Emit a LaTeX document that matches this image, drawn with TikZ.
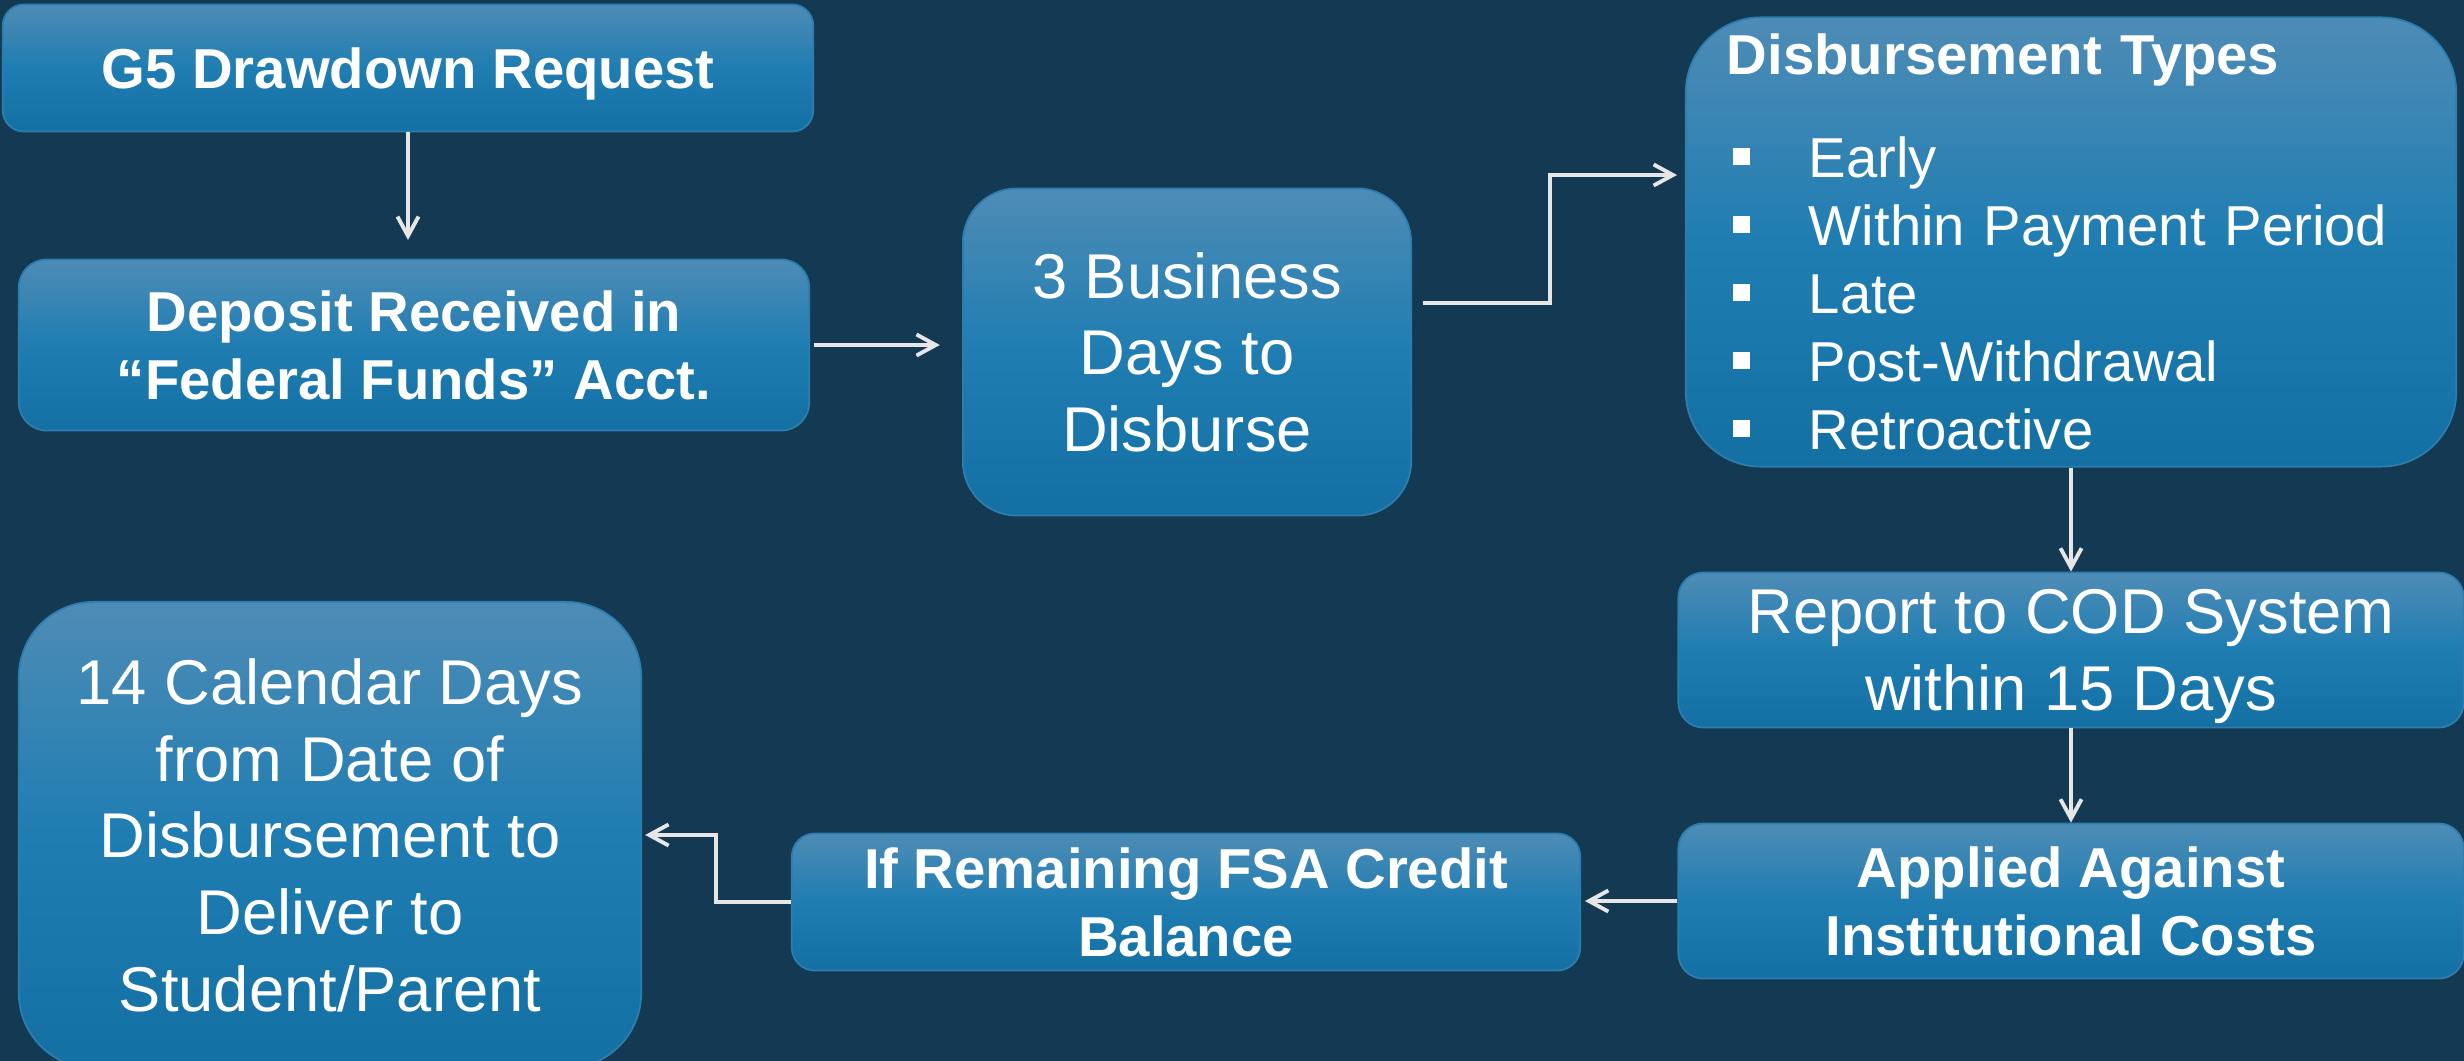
\documentclass[tikz,border=0pt]{standalone}
\usepackage{fontspec}
\setmainfont{Liberation Sans}
\usetikzlibrary{arrows.meta,calc}
\definecolor{bgnavy}{RGB}{20,58,83}
\definecolor{boxtop}{RGB}{78,140,182}
\definecolor{boxmid}{RGB}{31,125,178}
\definecolor{boxbot}{RGB}{20,112,163}
\definecolor{boxline}{RGB}{45,125,175}
\definecolor{flowgray}{RGB}{230,230,230}
\newcommand{\bulletsq}{\hspace*{1.7pt}\rule[3.6pt]{4.8pt}{4.8pt}\hspace{16.8pt}}
\begin{document}
\begin{tikzpicture}[x=0.01cm,y=-0.01cm,
  box/.style={draw=boxline,line width=0.5pt,top color=boxtop,bottom color=boxbot,middle color=boxmid,text=white,align=center,inner sep=0pt},
  plain/.style={font=\fontsize{18}{21.8}\selectfont,text depth=0pt},
  strong/.style={font=\fontsize{16}{19.2}\selectfont\bfseries,text depth=0pt},
  flow/.style={draw=flowgray,line width=1.1pt,-{Straight Barb[length=5.5pt,width=6pt]}}]
\useasboundingbox (0,0) rectangle (2464,1061);
\fill[bgnavy] (0,0) rectangle (2464,1061);
% top row
\node[box,strong,rounded corners=0.21cm,minimum width=8.10cm,minimum height=1.27cm] (req) at (408,68) {G5 Drawdown Request};
\node[box,strong,rounded corners=0.28cm,minimum width=7.90cm,minimum height=1.71cm] (dep) at (414,345) {Deposit Received in\\“Federal Funds” Acct.};
\node[box,plain,rounded corners=0.54cm,minimum width=4.48cm,minimum height=3.27cm] (biz) at (1187,352) {3 Business\\Days to\\Disburse};
\node[box,rounded corners=0.75cm,minimum width=7.70cm,minimum height=4.49cm,align=left,text width=6.88cm,inner xsep=0.41cm,font=\fontsize{16}{19.35}\selectfont] (types) at (2071,242) {\textbf{Disbursement Types}\\[10pt]
\bulletsq Early\\
\bulletsq Within Payment Period\\
\bulletsq Late\\
\bulletsq Post-Withdrawal\\
\bulletsq Retroactive};
% right column and bottom row
\node[box,plain,rounded corners=0.25cm,minimum width=7.85cm,minimum height=1.55cm] (report) at (2071,650) {Report to COD System\\within 15 Days};
\node[box,strong,rounded corners=0.25cm,minimum width=7.85cm,minimum height=1.55cm] (applied) at (2071,901) {Applied Against\\Institutional Costs};
\node[box,strong,rounded corners=0.23cm,minimum width=7.88cm,minimum height=1.37cm] (ifbal) at (1186,902) {If Remaining FSA Credit\\Balance};
\node[box,plain,rounded corners=0.75cm,minimum width=6.22cm,minimum height=4.66cm] (cal) at (330,835) {14 Calendar Days\\from Date of\\Disbursement to\\Deliver to\\Student/Parent};
\coordinate (typesin) at (1677,175);
% arrows
\draw[flow,shorten >=5.3pt] (req.south) -- (req.south |- dep.north);
\draw[flow,shorten <=1.1pt,shorten >=6.3pt] (dep.east) -- (dep.east -| biz.west);
\draw[flow] ($(biz.east)+(11,-49)$) -- ++(127,0) |- (typesin);
\draw[flow] (types.south) -- (report.north);
\draw[flow] (report.south) -- (applied.north);
\draw[flow,shorten >=1.1pt] (applied.west) -- (applied.west -| ifbal.east);
\draw[flow,shorten >=0.9pt] (ifbal.west) -- ++(-75,0) |- (cal.east);
\end{tikzpicture}
\end{document}
